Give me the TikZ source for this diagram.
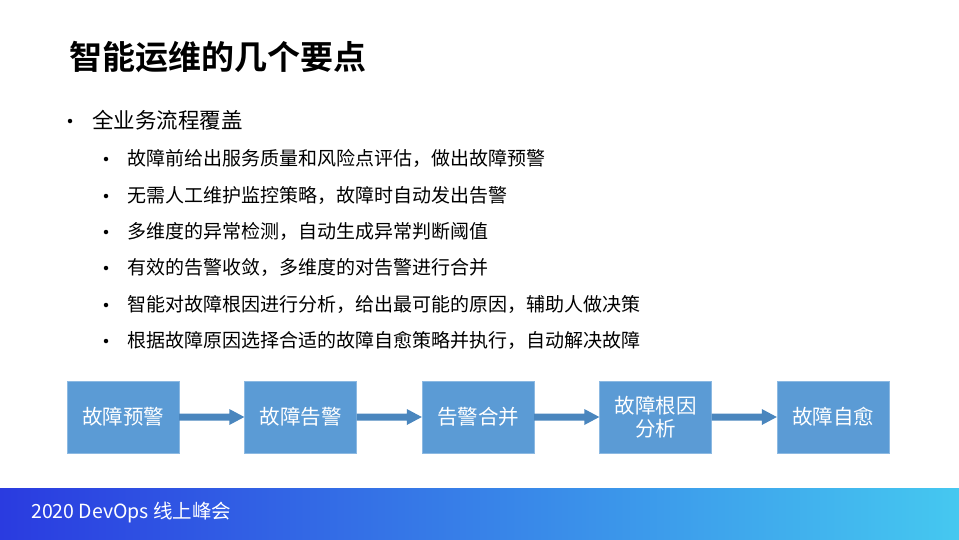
\documentclass[tikz,border=0pt]{standalone}
\usepackage{fontspec}
\setmainfont{Noto Sans CJK SC}
\newfontfamily\cjkb{Noto Sans CJK SC Bold}
\definecolor{boxblue}{HTML}{5B9BD5}
\definecolor{arrblue}{HTML}{4A86BE}
\definecolor{footL}{HTML}{2A3BE0}
\definecolor{footR}{HTML}{45C8F0}
\begin{document}
\begin{tikzpicture}[x=1pt,y=-1pt,
  stepbox/.style={draw=boxblue!70!white,fill=boxblue,minimum width=112pt,minimum height=72pt,text=white,font=\fontsize{20.5}{23}\selectfont,align=center,inner sep=0pt},
  l1/.style={anchor=west,font=\fontsize{21.5}{24}\selectfont,inner sep=0pt},
  l2/.style={anchor=west,font=\fontsize{19}{22}\selectfont,inner sep=0pt},
  dot/.style={circle,fill=black,inner sep=0pt,minimum size=4.5pt}]
\useasboundingbox (0,0) rectangle (959,539);
\fill[white] (0,0) rectangle (959,539);
\shade[left color=footL,right color=footR] (0,488) rectangle (959,539);
\node[anchor=west,text=white,font=\fontsize{19.5}{22}\selectfont,inner sep=0pt] (foot) at (31,513) {2020 DevOps 线上峰会};
\node[anchor=west,font=\cjkb\fontsize{33}{38}\selectfont,inner sep=0pt] (title) at (69,57) {智能运维的几个要点};
\node[dot] (b0) at (70,121) {};
\node[l1] (t0) at (92,120) {全业务流程覆盖};
\foreach \y/\t [count=\i] in {158/故障前给出服务质量和风险点评估，做出故障预警,
  195/无需人工维护监控策略，故障时自动发出告警,
  231/多维度的异常检测，自动生成异常判断阈值,
  267/有效的告警收敛，多维度的对告警进行合并,
  304/智能对故障根因进行分析，给出最可能的原因，辅助人做决策,
  340/根据故障原因选择合适的故障自愈策略并执行，自动解决故障}{
  \node[dot] (b\i) at (106,\y+1) {};
  \node[l2] (t\i) at (127,\y) {\t};
}
\node[stepbox] (s1) at (123,417) {故障预警};
\node[stepbox] (s2) at (300.5,417) {故障告警};
\node[stepbox] (s3) at (478,417) {告警合并};
\node[stepbox] (s4) at (655.5,417) {故障根因\\分析};
\node[stepbox] (s5) at (833,417) {故障自愈};
\foreach \a/\b in {s1/s2,s2/s3,s3/s4,s4/s5}{
  \fill[arrblue] ([yshift=3.5pt]\a.east) -- ([xshift=-15pt,yshift=3.5pt]\b.west) -- ([xshift=-15pt,yshift=8pt]\b.west) -- (\b.west) -- ([xshift=-15pt,yshift=-8pt]\b.west) -- ([xshift=-15pt,yshift=-3.5pt]\b.west) -- ([yshift=-3.5pt]\a.east) -- cycle;
}
\end{tikzpicture}
\end{document}
